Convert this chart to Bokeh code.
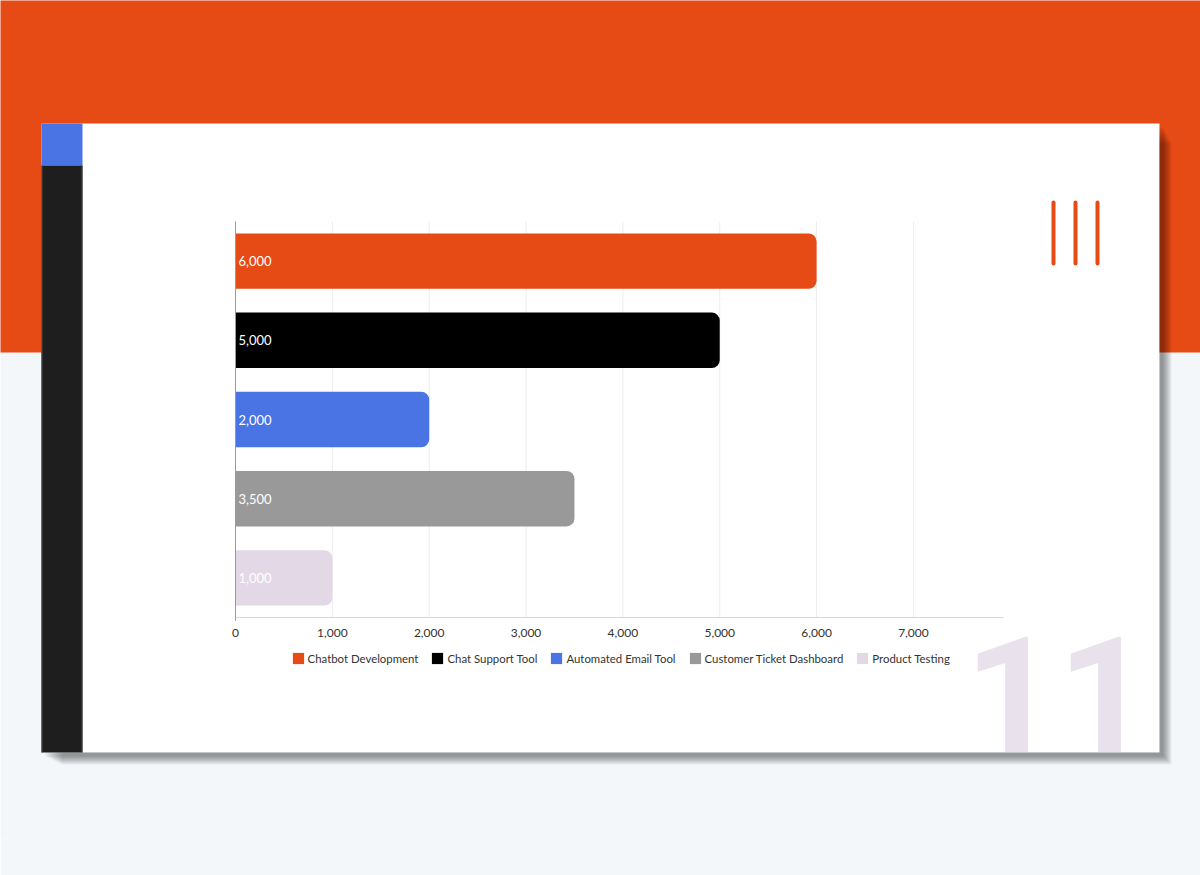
from bokeh.plotting import figure
from bokeh.models import (ColumnDataSource, Range1d, FactorRange, BoxAnnotation, Label,
                          NumeralTickFormatter, FixedTicker)
from bokeh.core.properties import value
from bokeh.embed import file_html
from bokeh.resources import INLINE

# ---------------- data ----------------
categories = ["Chatbot Development", "Chat Support Tool", "Automated Email Tool",
              "Customer Ticket Dashboard", "Product Testing"]
values = [6000, 5000, 2000, 3500, 1000]
colors = ["#E64A15", "#000000", "#4A73E3", "#999999", "#E2D8E6"]
x_ticks = [0, 1000, 2000, 3000, 4000, 5000, 6000, 7000]
x_max = 7930
big_number = "11"

# ---------------- layout constants (page pixels) ----------------
W, H = 1200, 875
FL, FR, FT, FB = 235, 1003, 221, 617   # chart area on the page
FRAME_B = FT + FB                      # frame bottom so category padding is symmetric
N = len(categories)
KX = (FR - FL) / x_max                 # px per value unit
UY = (FB - FT) / N                     # px per category

ORANGE = "#E64A15"
LIGHT_BG = "#F4F7FA"

p = figure(width=W, height=H, output_backend="svg", toolbar_location=None,
           x_range=Range1d(-FL / KX, (W - FL) / KX),
           y_range=FactorRange(factors=list(reversed(categories)),
                               range_padding=FT / UY, range_padding_units="absolute"),
           min_border_left=0, min_border_right=0, min_border_top=0,
           min_border_bottom=H - FRAME_B)
p.outline_line_color = None
p.border_fill_color = LIGHT_BG
p.background_fill_color = LIGHT_BG

# pixel range on x for decorations; y uses synthetic categorical coordinates
p.extra_x_ranges = {"px": Range1d(0, W)}


def sy(page_y):
    return (FB - page_y) / UY


def box(l, r, t, b, color, alpha=1.0, radius=0):
    p.add_layout(BoxAnnotation(left=l, right=r, top=sy(t), bottom=sy(b),
                               x_range_name="px",
                               fill_color=color, fill_alpha=alpha,
                               line_color=None, line_alpha=0,
                               border_radius=radius, level="image"))


CL, CR, CT, CB = 41, 1159, 123, 752    # card

# orange header band
box(-10, W + 10, -10, 352, ORANGE)
# white card
box(CL, CR, CT, CB, "#FFFFFF")
# big faint number in the corner (cut by the card bottom)
p.add_layout(Label(x=1057, y=sy(694), x_range_name="px",
                   text=big_number, text_align="center", text_baseline="alphabetic",
                   text_font="Roboto", text_font_style="bold", text_font_size="162px",
                   text_color="#E9E2EC", level="image"))
box(CL, W + 10, CB, H + 10, LIGHT_BG)

# card shadow (right and bottom, outside the card)
sdx, sdy = 4, 4
for i in range(9):
    e = float(i)
    l, r, t, b = CL + sdx + 2 * e, CR + sdx + e, CT + sdy + 2 * e, CB + sdy + e
    box(CR, r, t, CB, "#000000", 0.05)
    box(l, r, CB, b, "#000000", 0.05)

# left side bar
box(CL, 82, CT, 165, "#4A73E3")
box(CL, 82, 165, CB, "#1E1E1E")
box(81, 82, 165, CB, "#4A4A4A")
box(CL, CL + 1, 165, CB, "#4A4A4A")

# three orange stripes
for cx in (1053, 1075, 1097):
    box(cx - 2, cx + 2, 200, 265, ORANGE, radius=2)

# ---------------- chart ----------------
source = ColumnDataSource(dict(
    cat=categories, val=values, color=colors,
    start=[0] * N,
    label=[f"{v:,}" for v in values],
))

# vertical grid lines over the category span
grid = ColumnDataSource(dict(x=x_ticks, y0=[0] * len(x_ticks), y1=[N] * len(x_ticks)))
p.segment(x0="x", x1="x", y0="y0", y1="y1", source=grid,
          line_color="#EDEDED", line_width=1, level="underlay")
p.xgrid.visible = False
p.ygrid.visible = False

p.hbar(y="cat", left="start", right="val", height=0.7, source=source,
       fill_color="color", line_color=None, border_radius=(0, 8, 8, 0),
       legend_field="cat")

p.text(x="start", y="cat", text="label", source=source, x_offset=3,
       text_align="left", text_baseline="middle", text_color="white",
       text_font=value("Lato"), text_font_size="13px")

# y axis line (value 0 across the categories)
p.segment(x0=[0], x1=[0], y0=[-0.04], y1=[N], line_color="#9A9A9A", line_width=1)
p.yaxis.visible = False

# x axis, fixed at the bottom of the categories
ticker = FixedTicker(ticks=x_ticks)
p.xaxis.ticker = ticker
p.xaxis.fixed_location = 0
p.xaxis.bounds = (0, x_max)
p.xaxis.formatter = NumeralTickFormatter(format="0,0")
p.xaxis.axis_line_color = "#D6D6D6"
p.xaxis.major_tick_line_color = None
p.xaxis.minor_tick_line_color = None
p.xaxis.major_label_standoff = 5
p.xaxis.major_label_text_font = "Lato"
p.xaxis.major_label_text_font_size = "12px"
p.xaxis.major_label_text_color = "#333333"

# legend
leg = p.legend[0]
leg.orientation = "horizontal"
leg.location = (290.6, FRAME_B - 665)
leg.glyph_width = 14
leg.glyph_height = 14
leg.label_standoff = 3
leg.spacing = 12
leg.padding = 0
leg.margin = 0
leg.border_line_color = None
leg.background_fill_alpha = 0
leg.label_text_font = "Lato"
leg.label_text_font_size = "11.4px"
leg.label_text_color = "#333333"

open("out.html", "w").write(file_html(p, INLINE))
